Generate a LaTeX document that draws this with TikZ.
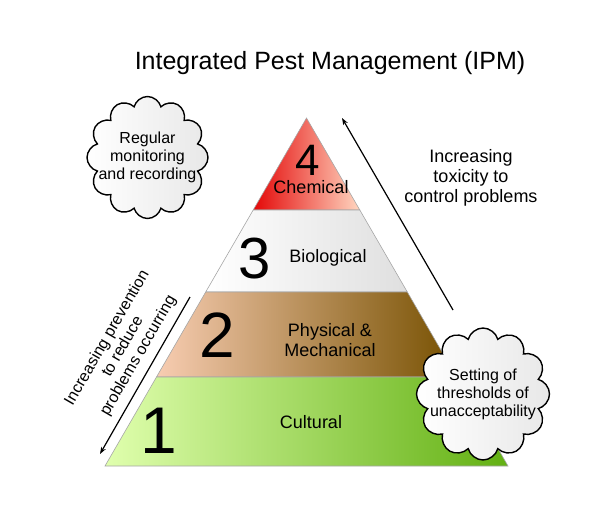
\documentclass[tikz,border=0pt]{standalone}
\usepackage{fontspec}
\setmainfont{Liberation Sans}
\usepackage{tikz}
\usetikzlibrary{shapes.symbols, arrows.meta}

\definecolor{chemleft}{HTML}{E40808}
\definecolor{chemright}{HTML}{FFD6C0}
\definecolor{physleft}{HTML}{F8CDB2}
\definecolor{physmid}{HTML}{C88A00}
\definecolor{physright}{HTML}{765000}
\definecolor{cultleft}{HTML}{E0FFAE}
\definecolor{cultmid}{HTML}{CCFFE8}
\definecolor{cultright}{HTML}{62B012}

\begin{document}
\begin{tikzpicture}[
    x=1pt, y=-1pt,
    every node/.style={font=\fontsize{18}{20}\selectfont, align=center},
    layer/.style={draw=gray!70, line width=0.6pt},
    digit/.style={font=\fontsize{#1}{#1}\selectfont},
    puff/.style={cloud, cloud puffs=12, cloud ignores aspect, draw, line width=1.4pt,
        left color=white, right color=gray!18, inner sep=0pt},
    puff text/.style={font=\fontsize{16}{18}\selectfont},
    trend/.style={line width=1.2pt, -{Stealth[length=7pt, width=5pt]}}
]
\useasboundingbox (0,0) rectangle (600,506);

% title
\node (title) at (330,63) {\fontsize{25}{28}\selectfont Integrated Pest Management (IPM)};

% pyramid layers
\shade[layer, left color=chemleft, right color=chemright] (306.5,118) -- (359.8,210) -- (253.2,210) -- cycle;
\shade[layer, left color=white, right color=gray!25] (253.2,210) -- (359.8,210) -- (407.3,292) -- (205.7,292) -- cycle;
\shade[layer, left color=physleft, middle color=physmid, right color=physright] (205.7,292) -- (407.3,292) -- (456.5,377) -- (156.5,377) -- cycle;
\shade[layer, left color=cultleft, middle color=cultmid, right color=cultright] (156.5,377) -- (456.5,377) -- (508,466) -- (105,466) -- cycle;

% labels
\node[digit=44] (n4) at (308,160) {4};
\node (chem) at (311,187) {Chemical};
\node[digit=58] (n3) at (255,259) {3};
\node (bio) at (328,258) {Biological};
\node[digit=64] (n2) at (217,335) {2};
\node (phys) at (330,340) {Physical \&\\Mechanical};
\node[digit=66] (n1) at (159,431) {1};
\node (cult) at (311,422) {Cultural};

% clouds
\node[puff, minimum width=121pt, minimum height=122pt] (monitor) at (147.5,157.5) {};
\node[puff text] (monitor text) at (monitor.center) {Regular\\monitoring\\and recording};
\node[puff, minimum width=133pt, minimum height=132pt] (thresh) at (483,394) {};
\node[puff text] (thresh text) at (thresh.center) {Setting of\\thresholds of\\unacceptability};

% arrows
\coordinate (tox start) at (453,310);
\coordinate (tox end) at (342,118);
\draw[trend] (tox start) -- (tox end);
\node (tox) at (471,178) {Increasing\\toxicity to\\control problems};

\coordinate (prev start) at (190,297);
\coordinate (prev end) at (100,454);
\draw[trend] (prev start) -- (prev end);
\node[rotate=60, font=\fontsize{16}{18}\selectfont] (prev) at (123,347) {Increasing prevention\\to reduce\\problems occurring};
\end{tikzpicture}
\end{document}
